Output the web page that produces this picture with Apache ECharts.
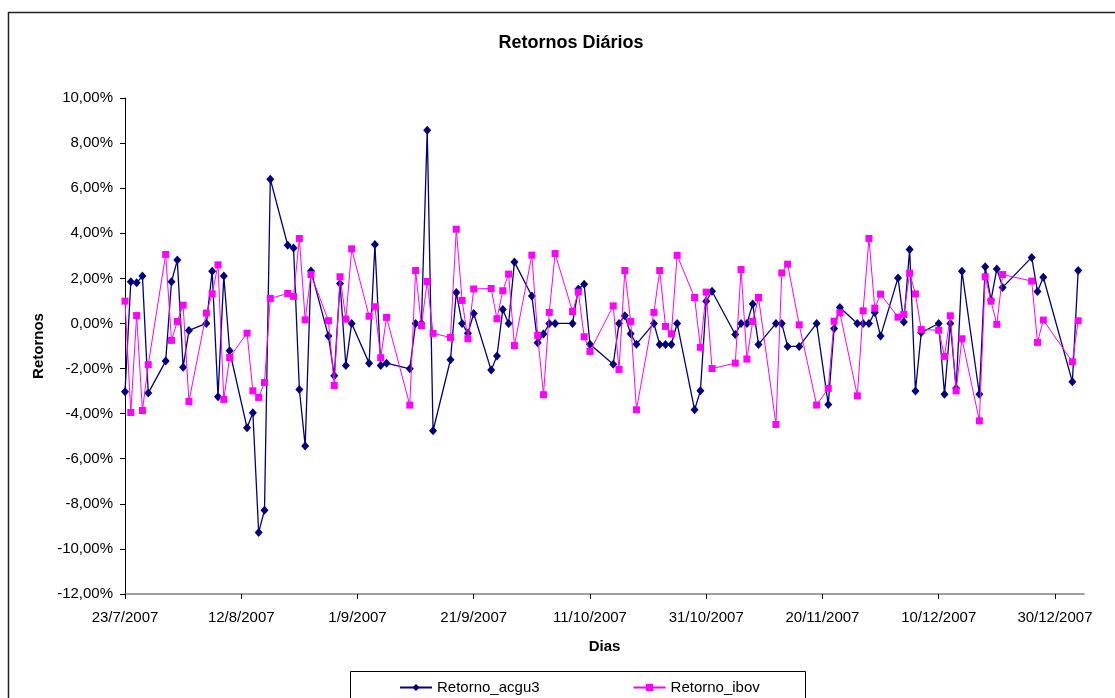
<!DOCTYPE html>
<html>
<head>
<meta charset="utf-8">
<script src="https://cdn.jsdelivr.net/npm/echarts@6/dist/echarts.min.js"></script>
<style>
html,body{margin:0;padding:0;background:#fff;}
#chart{width:1115px;height:698px;}
</style>
</head>
<body>
<div id="chart"></div>
<script>
// ---- data (returns in %) ----
const dates = [
 '2007-07-23','2007-07-24','2007-07-25','2007-07-26','2007-07-27',
 '2007-07-30','2007-07-31','2007-08-01','2007-08-02','2007-08-03',
 '2007-08-06','2007-08-07','2007-08-08','2007-08-09','2007-08-10',
 '2007-08-13','2007-08-14','2007-08-15','2007-08-16','2007-08-17',
 '2007-08-20','2007-08-21','2007-08-22','2007-08-23','2007-08-24',
 '2007-08-27','2007-08-28','2007-08-29','2007-08-30','2007-08-31',
 '2007-09-03','2007-09-04','2007-09-05','2007-09-06',
 '2007-09-10','2007-09-11','2007-09-12','2007-09-13','2007-09-14',
 '2007-09-17','2007-09-18','2007-09-19','2007-09-20','2007-09-21',
 '2007-09-24','2007-09-25','2007-09-26','2007-09-27','2007-09-28',
 '2007-10-01','2007-10-02','2007-10-03','2007-10-04','2007-10-05',
 '2007-10-08','2007-10-09','2007-10-10','2007-10-11',
 '2007-10-15','2007-10-16','2007-10-17','2007-10-18','2007-10-19',
 '2007-10-22','2007-10-23','2007-10-24','2007-10-25','2007-10-26',
 '2007-10-29','2007-10-30','2007-10-31','2007-11-01',
 '2007-11-05','2007-11-06','2007-11-07','2007-11-08','2007-11-09',
 '2007-11-12','2007-11-13','2007-11-14','2007-11-16',
 '2007-11-19','2007-11-21','2007-11-22','2007-11-23',
 '2007-11-26','2007-11-27','2007-11-28','2007-11-29','2007-11-30',
 '2007-12-03','2007-12-04','2007-12-05','2007-12-06','2007-12-07',
 '2007-12-10','2007-12-11','2007-12-12','2007-12-13','2007-12-14',
 '2007-12-17','2007-12-18','2007-12-19','2007-12-20','2007-12-21',
 '2007-12-26','2007-12-27','2007-12-28',
 '2008-01-02','2008-01-03'
];
const retornoAcgu3 = [
 -3.03, 1.85, 1.80, 2.10, -3.09,
 -1.67, 1.85, 2.81, -1.94, -0.31,
 0.00, 2.32, -3.25, 2.11, -1.21,
 -4.63, -3.96, -9.27, -8.28, 6.40,
 3.47, 3.35, -2.93, -5.43, 2.33,
 -0.56, -2.32, 1.77, -1.86, 0.00,
 -1.76, 3.50, -1.86, -1.76,
 -2.01, 0.00, 0.00, 8.57, -4.76,
 -1.61, 1.37, 0.00, -0.44, 0.44,
 -2.07, -1.44, 0.62, 0.00, 2.73,
 1.22, -0.86, -0.47, 0.00, 0.00,
 0.00, 1.53, 1.74, -0.92,
 -1.81, 0.00, 0.34, -0.46, -0.92,
 0.00, -0.93, -0.93, -0.93, 0.00,
 -3.83, -2.99, 0.99, 1.43,
 -0.49, 0.00, 0.00, 0.86, -0.93,
 0.00, 0.00, -1.02, -1.02,
 0.00, -3.59, -0.22, 0.71,
 0.00, 0.00, 0.00, 0.49, -0.56,
 2.02, 0.06, 3.28, -3.00, -0.40,
 0.00, -3.14, 0.00, -2.87, 2.32,
 -3.14, 2.51, 1.03, 2.42, 1.60,
 2.93, 1.42, 2.05,
 -2.59, 2.35
];
const retornoIbov = [
 0.99, -3.95, 0.35, -3.86, -1.83,
 3.06, -0.75, 0.09, 0.81, -3.46,
 0.46, 1.31, 2.60, -3.37, -1.51,
 -0.43, -2.99, -3.28, -2.62, 1.11,
 1.33, 1.20, 3.77, 0.16, 2.17,
 0.12, -2.75, 2.07, 0.19, 3.31,
 0.32, 0.74, -1.52, 0.27,
 -3.62, 2.35, -0.09, 1.86, -0.44,
 -0.62, 4.18, 1.02, -0.68, 1.53,
 1.55, 0.21, 1.45, 2.19, -0.98,
 3.03, -0.53, -3.16, 0.49, 3.10,
 0.53, 1.39, -0.59, -1.24,
 0.78, -2.04, 2.35, 0.09, -3.83,
 0.49, 2.35, -0.13, -0.46, 3.02,
 1.15, -1.06, 1.39, -2.00,
 -1.76, 2.39, -1.58, 0.09, 1.15,
 -4.48, 2.24, 2.63, -0.06,
 -3.62, -2.88, 0.10, 0.47,
 -3.21, 0.56, 3.77, 0.68, 1.30,
 0.28, 0.40, 2.23, 1.31, -0.27,
 -0.30, -1.46, 0.34, -2.99, -0.68,
 -4.32, 2.07, 0.99, -0.04, 2.17,
 1.88, -0.84, 0.15,
 -1.70, 0.12
];
const xTickLabels = ['23/7/2007','12/8/2007','1/9/2007','21/9/2007','11/10/2007','31/10/2007','20/11/2007','10/12/2007','30/12/2007'];
const seriesNames = ['Retorno_acgu3','Retorno_ibov'];

// ---- helpers ----
const baseMs = Date.UTC(2007, 6, 23);
function dayOffset(s){
  const p = s.split('-').map(Number);
  return Math.round((Date.UTC(p[0], p[1]-1, p[2]) - baseMs) / 86400000);
}
const xTickValues = xTickLabels.map(function(l){
  const p = l.split('/').map(Number);
  return Math.round((Date.UTC(p[2], p[1]-1, p[0]) - baseMs) / 86400000);
});
const dataA = dates.map(function(d,i){ return [dayOffset(d), retornoAcgu3[i]]; });
const dataB = dates.map(function(d,i){ return [dayOffset(d), retornoIbov[i]]; });

const FONT = '"Liberation Sans", Arial, sans-serif';
const chart = echarts.init(document.getElementById('chart'), null, {renderer:'canvas'});
chart.setOption({
  animation: false,
  backgroundColor: '#ffffff',
  title: {
    text: 'Retornos Diários',
    left: 566, top: 29, textAlign: 'center',
    textStyle: {fontFamily: FONT, fontSize: 18, fontWeight: 'bold', color: '#000'}
  },
  graphic: [
    {type:'rect', shape:{x:8.5, y:12.5, width:1120, height:700}, style:{fill:'none', stroke:'#222', lineWidth:1.5}, z:-1},
    {type:'rect', shape:{x:350.5, y:671.5, width:455, height:40}, style:{fill:'#fff', stroke:'#000', lineWidth:1}, z:0}
  ],
  legend: {
    data: seriesNames,
    left: 394, top: 675,
    itemWidth: 32, itemHeight: 9, itemGap: 93,
    textStyle: {fontFamily: FONT, fontSize: 15, color: '#000'},
    z: 5
  },
  grid: {left: 125, top: 98, right: 31, bottom: 104, containLabel: false},
  xAxis: {
    type: 'value', min: 0, max: 165, interval: 20,
    name: 'Dias', nameLocation: 'middle', nameGap: 45,
    nameTextStyle: {fontFamily: FONT, fontSize: 15, fontWeight: 'bold', color: '#000'},
    axisLine: {show: true, onZero: false, lineStyle: {color: '#808080', width: 1.5}},
    axisTick: {show: true, length: 5, customValues: xTickValues, lineStyle: {color: '#000'}},
    splitLine: {show: false},
    axisLabel: {
      customValues: xTickValues, margin: 16,
      fontFamily: FONT, fontSize: 15, color: '#000',
      formatter: function(v){ const i = xTickValues.indexOf(Math.round(v)); return i >= 0 ? xTickLabels[i] : ''; }
    }
  },
  yAxis: {
    type: 'value', min: -12, max: 10, interval: 2,
    name: 'Retornos', nameLocation: 'middle', nameGap: 79,
    nameTextStyle: {fontFamily: FONT, fontSize: 15, fontWeight: 'bold', color: '#000'},
    axisLine: {show: true, lineStyle: {color: '#000', width: 1}},
    axisTick: {show: true, length: 5, lineStyle: {color: '#000'}},
    splitLine: {show: false},
    axisLabel: {
      margin: 12, fontFamily: FONT, fontSize: 15, color: '#000',
      formatter: function(v){ return v.toFixed(2).replace('.', ',') + '%'; }
    }
  },
  series: [
    {
      name: seriesNames[0], type: 'line', data: dataA,
      symbol: 'diamond', symbolSize: [8, 9], showAllSymbol: true,
      lineStyle: {color: '#000080', width: 1.3},
      itemStyle: {color: '#000080'}, z: 2
    },
    {
      name: seriesNames[1], type: 'line', data: dataB,
      symbol: 'rect', symbolSize: 7, showAllSymbol: true,
      lineStyle: {color: '#FF00FF', width: 1},
      itemStyle: {color: '#FF00FF'}, z: 3
    }
  ]
});
</script>
</body>
</html>
